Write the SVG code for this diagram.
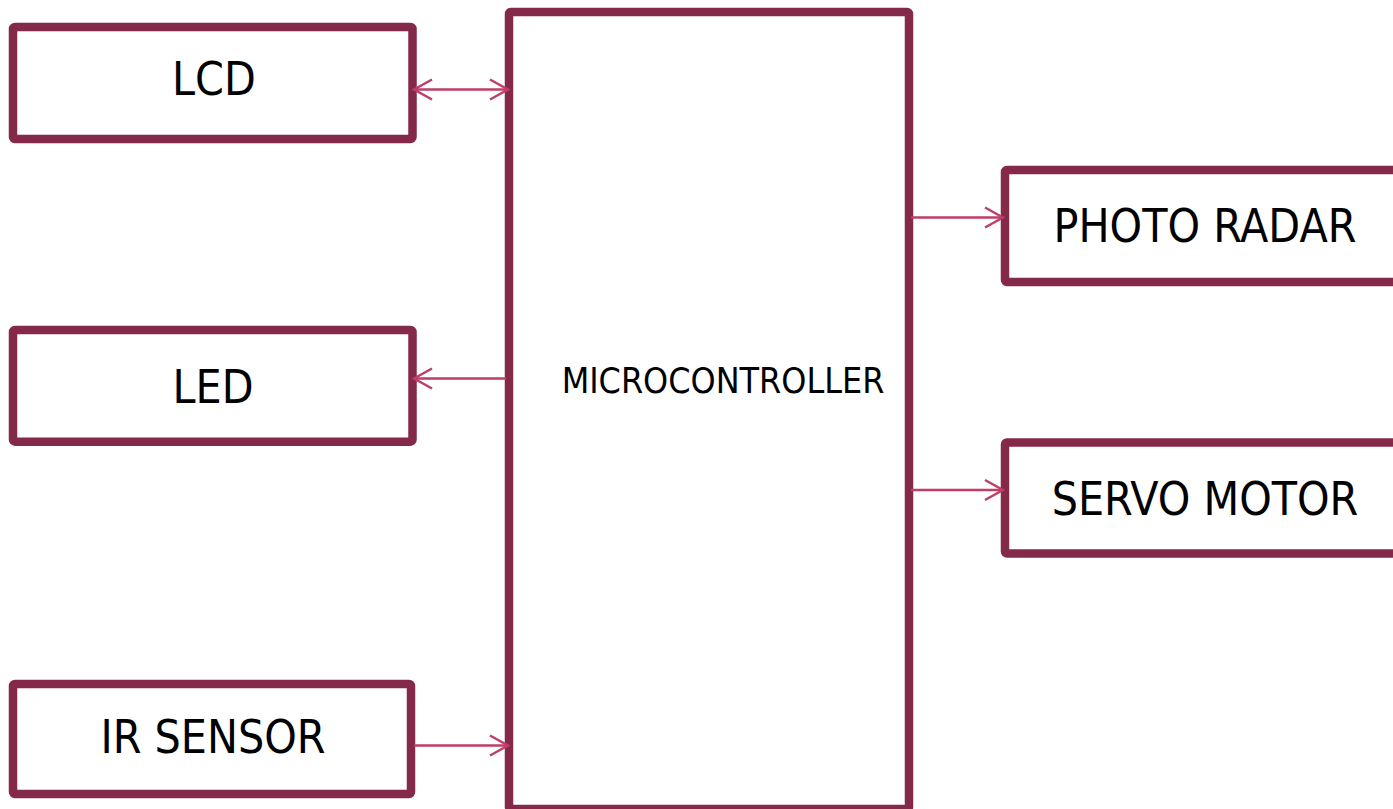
<svg xmlns="http://www.w3.org/2000/svg" width="1393" height="809" viewBox="0 0 1393 809">
  <style>
    .box { fill: #ffffff; stroke: #85294A; stroke-width: 8.5; }
    .lbl { font-family: 'DejaVu Sans Condensed', 'DejaVu Sans', sans-serif; font-size: 46px; fill: #000000; text-anchor: middle; }
    .small { font-size: 35.5px; }
    .conn { stroke: #BF3D69; stroke-width: 2.5; fill: none; }
  </style>
  <defs>
    <marker id="arr" viewBox="-21 -12 23 24" markerWidth="23" markerHeight="24" refX="0" refY="0" orient="auto-start-reverse" markerUnits="userSpaceOnUse">
      <path d="M-18,-10 L0,0 L-18,10" fill="none" stroke="#BF3D69" stroke-width="2.5" stroke-linejoin="miter"/>
    </marker>
  </defs>
  <rect width="1393" height="809" fill="#ffffff"/>

  <g id="microcontroller">
    <rect class="box" x="509" y="12" width="400" height="797" rx="2"/>
    <text class="lbl small" x="723" y="393">MICROCONTROLLER</text>
  </g>
  <g id="lcd">
    <rect class="box" x="13" y="27" width="399.5" height="112" rx="2"/>
    <text class="lbl" x="214" y="95">LCD</text>
  </g>
  <g id="led">
    <rect class="box" x="13" y="330" width="399.5" height="111.7" rx="2"/>
    <text class="lbl" x="213" y="403">LED</text>
  </g>
  <g id="ir-sensor">
    <rect class="box" x="13" y="684" width="398" height="110" rx="2"/>
    <text class="lbl" x="213" y="753">IR SENSOR</text>
  </g>
  <g id="photo-radar">
    <rect class="box" x="1005" y="170" width="500" height="112" rx="2"/>
    <text class="lbl" x="1205" y="242">PHOTO RADAR</text>
  </g>
  <g id="servo-motor">
    <rect class="box" x="1005" y="442.5" width="500" height="111" rx="2"/>
    <text class="lbl" x="1205" y="515">SERVO MOTOR</text>
  </g>

  <g id="connectors">
    <line class="conn" x1="414" y1="89.5" x2="508" y2="89.5" marker-start="url(#arr)" marker-end="url(#arr)"/>
    <line class="conn" x1="506" y1="378.5" x2="414" y2="378.5" marker-end="url(#arr)"/>
    <line class="conn" x1="414" y1="745.5" x2="508" y2="745.5" marker-end="url(#arr)"/>
    <line class="conn" x1="911" y1="217.5" x2="1003" y2="217.5" marker-end="url(#arr)"/>
    <line class="conn" x1="911" y1="490" x2="1003" y2="490" marker-end="url(#arr)"/>
  </g>
</svg>
